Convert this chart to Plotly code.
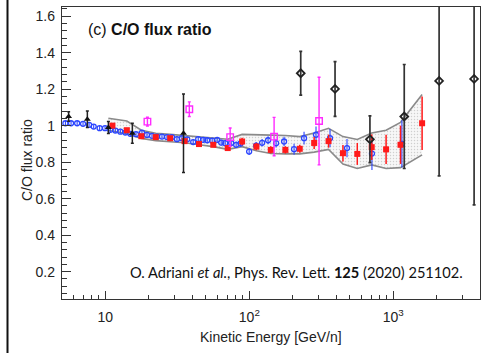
import plotly.graph_objects as go

# ---------------- data ----------------
# CALET C/O ratio (red squares) and systematic band
calet_e = [11.2, 14.1, 17.8, 22.4, 28.2, 35.5, 44.7, 56.2, 70.8, 89.1, 112, 141,
           178, 224, 282, 355, 447, 562, 708, 891, 1122, 1585]
calet_r = [1.0, 0.975, 0.942, 0.937, 0.931, 0.915, 0.899, 0.895, 0.877, 0.913, 0.885, 0.867,
           0.867, 0.873, 0.905, 0.915, 0.849, 0.845, 0.882, 0.87, 0.895, 1.013]
calet_err = [0.006, 0.006, 0.007, 0.007, 0.008, 0.008, 0.009, 0.01, 0.012, 0.02, 0.02, 0.02,
             0.02, 0.022, 0.033, 0.036, 0.045, 0.06, 0.07, 0.08, 0.105, 0.146]
band_e = [10.5, 14.1, 17.8, 22.4, 28.2, 35.5, 44.7, 56.2, 70.8, 89.1, 112, 141,
          178, 224, 282, 355, 447, 562, 708, 891, 1122, 1585]
band_hi = [1.04, 1.025, 0.975, 0.958, 0.952, 0.946, 0.94, 0.935, 0.925, 0.952, 0.952, 0.948,
           0.946, 0.94, 0.96, 0.985, 0.94, 0.924, 0.96, 0.975, 1.018, 1.17]
band_lo = [0.975, 0.955, 0.93, 0.918, 0.912, 0.906, 0.895, 0.885, 0.87, 0.885, 0.862, 0.847,
           0.845, 0.845, 0.855, 0.87, 0.79, 0.765, 0.785, 0.765, 0.77, 0.84]

# AMS-02 (blue open circles)
ams_e = [5.28, 5.78, 6.37, 7.0, 7.71, 8.3, 9.13, 9.95, 10.83, 11.73, 12.71, 13.76, 14.91,
         16.33, 17.97, 19.46, 21.08, 22.83, 24.73, 26.79, 29.01, 31.42, 34.03, 37.05, 40.76,
         44.16, 47.83, 50.98, 55.21, 59.8, 63.74, 67.95, 74.78, 81.0, 86.9, 99.7, 111.5,
         122.7, 135.0, 153.4, 174.3, 204.5, 239.9, 290.5, 363.3, 476.8, 710.6, 1147]
ams_r = [1.013, 1.013, 1.013, 1.01, 1.004, 0.995, 0.986, 0.986, 0.977, 0.973, 0.967, 0.962,
         0.955, 0.953, 0.962, 0.949, 0.944, 0.94, 0.94, 0.937, 0.937, 0.926, 0.931, 0.925,
         0.91, 0.926, 0.922, 0.92, 0.918, 0.922, 0.907, 0.904, 0.905, 0.895, 0.902, 0.858,
         0.89, 0.906, 0.92, 0.904, 0.913, 0.871, 0.931, 0.95, 0.931, 0.877, 0.847, 0.9]
ams_err = [0.012, 0.012, 0.012, 0.012, 0.012, 0.012, 0.012, 0.012, 0.012, 0.012, 0.012, 0.012,
           0.012, 0.012, 0.012, 0.012, 0.012, 0.013, 0.013, 0.013, 0.013, 0.013, 0.014, 0.014,
           0.014, 0.014, 0.015, 0.015, 0.015, 0.016, 0.016, 0.017, 0.017, 0.018, 0.018, 0.019,
           0.02, 0.021, 0.022, 0.024, 0.026, 0.03, 0.035, 0.045, 0.05, 0.05, 0.09, 0.13]

# HEAO-3 (black triangles)
heao_e = [5.56, 7.5, 10.5, 15.4, 34.9]
heao_r = [1.05, 1.035, 0.99, 0.958, 0.958]
heao_err = [0.026, 0.045, 0.033, 0.055, 0.215]

# CRN (magenta open squares)
crn_e = [19.6, 38.3, 73.6, 148.6, 305]
crn_r = [1.022, 1.09, 0.937, 0.94, 1.025]
crn_err = [0.024, 0.04, 0.05, 0.105, 0.24]

# high-energy balloon data (black open diamonds)
bal_e = [227.5, 393.8, 688, 1191, 2080, 3640]
bal_r = [1.287, 1.201, 0.925, 1.05, 1.245, 1.256]
bal_err = [0.12, 0.15, 0.128, 0.285, 0.52, 0.69]

# ---------------- figure ----------------
fig = go.Figure()

# systematic band (dotted fill)
fig.add_trace(go.Scatter(
    x=band_e + band_e[::-1], y=band_hi + band_lo[::-1],
    fill="toself", mode="none", fillcolor="rgba(225,225,225,0.5)",
    fillpattern=dict(shape=".", fgcolor="#a8a8a8", bgcolor="rgba(242,242,242,0.6)",
                     size=3, solidity=0.2),
    hoverinfo="skip", showlegend=False))
for edge in (band_hi, band_lo):
    fig.add_trace(go.Scatter(x=band_e, y=edge, mode="lines",
                             line=dict(color="#8a8a8a", width=1.6),
                             hoverinfo="skip", showlegend=False))

fig.add_trace(go.Scatter(
    x=ams_e, y=ams_r, mode="markers",
    marker=dict(symbol="circle-open", size=5, color="#2b45ff", line=dict(width=1.3)),
    error_y=dict(type="data", array=ams_err, color="#2b45ff", thickness=1.1, width=0),
    showlegend=False))

fig.add_trace(go.Scatter(
    x=calet_e, y=calet_r, mode="markers",
    marker=dict(symbol="square", size=6, color="#ff1a1a"),
    error_y=dict(type="data", array=calet_err, color="#ff1a1a", thickness=1.5, width=0),
    showlegend=False))

fig.add_trace(go.Scatter(
    x=heao_e, y=heao_r, mode="markers",
    marker=dict(symbol="triangle-up", size=6, color="#111111"),
    error_y=dict(type="data", array=heao_err, color="#222222", thickness=1.5, width=1.5),
    showlegend=False))

fig.add_trace(go.Scatter(
    x=crn_e, y=crn_r, mode="markers",
    marker=dict(symbol="square-open", size=6.5, color="#ff2bff", line=dict(width=1.4)),
    error_y=dict(type="data", array=crn_err, color="#ff2bff", thickness=1.4, width=1.5),
    showlegend=False))

fig.add_trace(go.Scatter(
    x=bal_e, y=bal_r, mode="markers",
    marker=dict(symbol="diamond-open", size=6, color="#222222", line=dict(width=1.8)),
    error_y=dict(type="data", array=bal_err, color="#333333", thickness=1.7, width=1.5),
    showlegend=False))

axis_font = dict(family="Liberation Sans, Arial, sans-serif", size=14, color="#222")

fig.update_xaxes(
    type="log", range=[0.69897, 3.60206],
    tickvals=[10, 100, 1000], ticktext=["10", "10<sup>2</sup>", "10<sup>3</sup>"],
    ticks="inside", ticklen=8, tickwidth=1, tickcolor="#333",
    minor=dict(ticks="inside", ticklen=4, tickcolor="#333",
               tickvals=[6, 7, 8, 9, 20, 30, 40, 50, 60, 70, 80, 90,
                         200, 300, 400, 500, 600, 700, 800, 900, 2000, 3000]),
    showline=True, linecolor="#333", linewidth=1.3, mirror=True,
    showgrid=False, zeroline=False, tickfont=axis_font, ticklabelstandoff=5)

fig.update_yaxes(
    range=[0.05, 1.65], tickvals=[0.2, 0.4, 0.6, 0.8, 1.0, 1.2, 1.4, 1.6],
    ticktext=["0.2", "0.4", "0.6", "0.8", "1", "1.2", "1.4", "1.6"],
    ticks="inside", ticklen=9, tickwidth=1, tickcolor="#333",
    minor=dict(ticks="inside", ticklen=5, tickcolor="#333", dtick=0.04, tick0=0.0),
    showline=True, linecolor="#333", linewidth=1.3, mirror=True,
    showgrid=False, zeroline=False, tickfont=axis_font, ticklabelstandoff=3)

W, H = 485, 353
L, R, T, B = 62, 5, 7, 54
pw, ph = W - L - R, H - T - B


def px(x):
    return (x - L) / pw


def py(y):
    return (H - B - y) / ph


fig.add_annotation(x=px(86), y=py(30), xref="paper", yref="paper", xanchor="left",
                   yanchor="middle", showarrow=False,
                   text="(c) <b>C/O flux ratio</b>",
                   font=dict(family="Liberation Sans, Arial, sans-serif", size=16, color="#111"))
fig.add_annotation(x=px(296), y=py(272), xref="paper", yref="paper", xanchor="center",
                   yanchor="middle", showarrow=False,
                   text="O. Adriani <i>et al.</i>, Phys. Rev. Lett. <b>125</b> (2020) 251102.",
                   font=dict(family="Lato, sans-serif", size=14.6, color="#111"))
fig.add_annotation(x=px(271), y=py(337), xref="paper", yref="paper", xanchor="center",
                   yanchor="middle", showarrow=False, text="Kinetic Energy [GeV/n]",
                   font=axis_font)
fig.add_annotation(x=px(27), y=py(160), xref="paper", yref="paper", xanchor="center",
                   yanchor="middle", showarrow=False, text="C/O flux ratio", textangle=-90,
                   font=axis_font)

# page border on the left
fig.add_shape(type="line", xref="paper", yref="paper", x0=px(7.5), x1=px(7.5),
              y0=py(H), y1=py(0), line=dict(color="#111", width=2))

fig.update_layout(width=W, height=H, margin=dict(l=L, r=R, t=T, b=B),
                  paper_bgcolor="white", plot_bgcolor="white", showlegend=False)

fig.write_html("out.html")
